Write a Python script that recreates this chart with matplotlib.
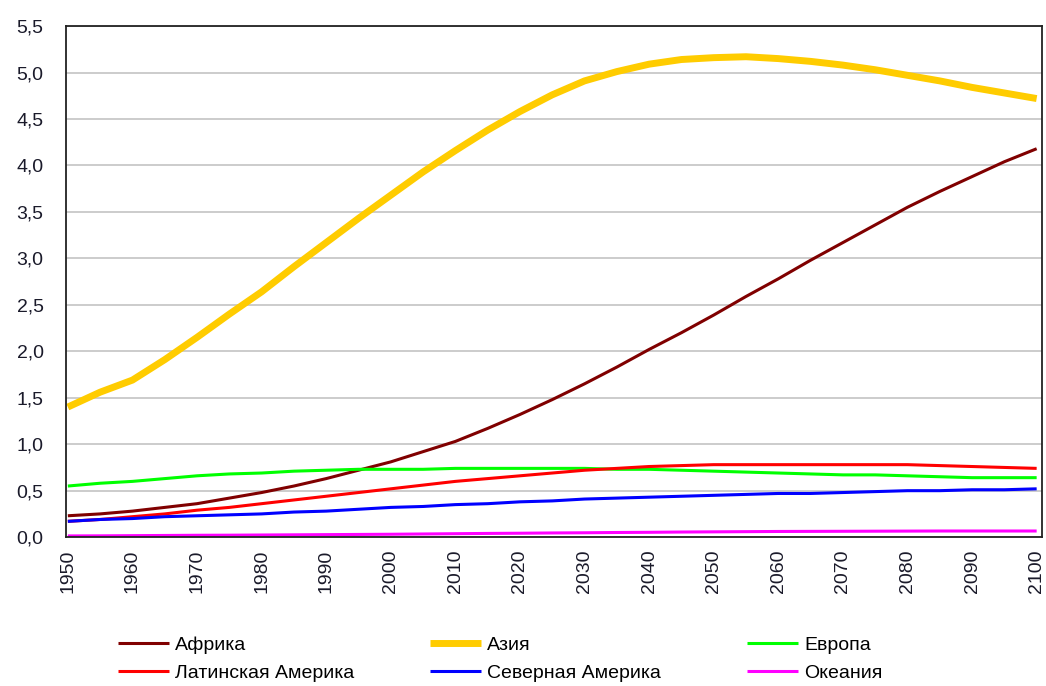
import matplotlib.pyplot as plt
from matplotlib.ticker import FuncFormatter

plt.rcParams['font.family'] = ['Liberation Sans', 'DejaVu Sans']

years = list(range(1950, 2101, 5))

# население, млрд
africa = [0.23, 0.25, 0.28, 0.32, 0.36, 0.42, 0.48, 0.55, 0.63, 0.72,
          0.81, 0.92, 1.03, 1.17, 1.32, 1.48, 1.65, 1.83, 2.02, 2.20,
          2.39, 2.59, 2.78, 2.98, 3.17, 3.36, 3.55, 3.72, 3.88, 4.04, 4.18]
asia = [1.40, 1.56, 1.69, 1.91, 2.15, 2.40, 2.64, 2.91, 3.17, 3.43,
        3.68, 3.93, 4.16, 4.38, 4.58, 4.76, 4.91, 5.01, 5.09, 5.14,
        5.16, 5.17, 5.15, 5.12, 5.08, 5.03, 4.97, 4.91, 4.84, 4.78, 4.72]
europe = [0.55, 0.58, 0.60, 0.63, 0.66, 0.68, 0.69, 0.71, 0.72, 0.73,
          0.73, 0.73, 0.74, 0.74, 0.74, 0.74, 0.74, 0.73, 0.73, 0.72,
          0.71, 0.70, 0.69, 0.68, 0.67, 0.67, 0.66, 0.65, 0.64, 0.64, 0.64]
latam = [0.17, 0.19, 0.22, 0.25, 0.29, 0.32, 0.36, 0.40, 0.44, 0.48,
         0.52, 0.56, 0.60, 0.63, 0.66, 0.69, 0.72, 0.74, 0.76, 0.77,
         0.78, 0.78, 0.78, 0.78, 0.78, 0.78, 0.78, 0.77, 0.76, 0.75, 0.74]
n_america = [0.17, 0.19, 0.20, 0.22, 0.23, 0.24, 0.25, 0.27, 0.28, 0.30,
             0.32, 0.33, 0.35, 0.36, 0.38, 0.39, 0.41, 0.42, 0.43, 0.44,
             0.45, 0.46, 0.47, 0.47, 0.48, 0.49, 0.50, 0.50, 0.51, 0.51, 0.52]
oceania = [0.013, 0.014, 0.016, 0.018, 0.020, 0.021, 0.023, 0.025, 0.027, 0.029,
           0.031, 0.034, 0.037, 0.040, 0.042, 0.045, 0.047, 0.050, 0.052, 0.055,
           0.057, 0.059, 0.061, 0.062, 0.063, 0.064, 0.065, 0.066, 0.066, 0.066, 0.066]

series = [
    ("Африка", africa, "#800000", 2.2),
    ("Азия", asia, "#ffcc00", 5.0),
    ("Европа", europe, "#00ff00", 2.2),
    ("Латинская Америка", latam, "#ff0000", 2.2),
    ("Северная Америка", n_america, "#0000ff", 2.2),
    ("Океания", oceania, "#ff00ff", 2.2),
]

fig = plt.figure(figsize=(10.46, 6.86), dpi=100)
ax = fig.add_axes([0.063, 0.217, 0.933, 0.745])

lines = []
for name, vals, col, lw in series:
    ln, = ax.plot(years, vals, color=col, lw=lw, label=name, solid_capstyle="butt")
    lines.append(ln)

ax.set_xlim(1949.7, 2100.8)
ax.set_ylim(0, 5.5)
ax.set_xticks(range(1950, 2101, 10))
ax.set_yticks([i * 0.5 for i in range(12)])
ax.yaxis.set_major_formatter(FuncFormatter(lambda v, p: f"{v:.1f}".replace(".", ",")))
ax.tick_params(axis="x", labelrotation=90, length=0, pad=9, labelsize=14, labelcolor="#1a1a2a")
ax.tick_params(axis="y", length=0, pad=16, labelsize=14, labelcolor="#1a1a2a")
ax.grid(axis="y", color="#c8c8c8", lw=1.3)
ax.set_axisbelow(True)
for s in ax.spines.values():
    s.set_color("#222222")
    s.set_linewidth(1.3)

# легенда: три колонки по две строки
col_x = [118 / 1046, 430 / 1046, 747 / 1046]
for i, x in enumerate(col_x):
    pair = [lines[i], lines[i + 3]]
    fig.legend(pair, [l.get_label() for l in pair], loc="upper left",
               bbox_to_anchor=(x, 0.072), frameon=False, fontsize=14,
               borderpad=0, borderaxespad=0, handlelength=2.6,
               handletextpad=0.35, labelspacing=0.5)

fig.savefig("out.png", dpi=100)
